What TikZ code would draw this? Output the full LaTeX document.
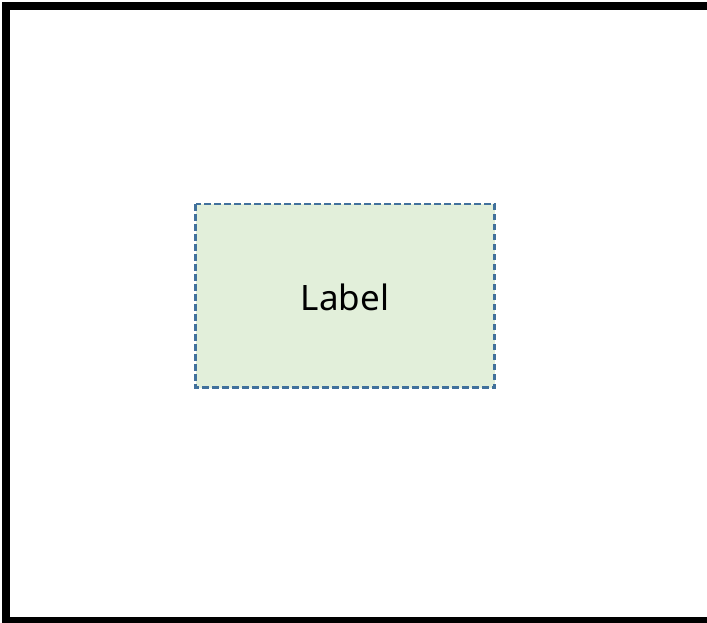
\documentclass[tikz,border=0pt]{standalone}
\usepackage{fontspec}
\setmainfont{Noto Sans}
\definecolor{boxfill}{RGB}{226,239,218}
\definecolor{boxline}{RGB}{65,113,156}
\tikzset{
  frame/.style={draw=black, line width=8pt},
  labelbox/.style={draw=boxline, fill=boxfill, line width=2.5pt, dash pattern=on 6.5pt off 3.5pt, inner sep=0pt},
}
\begin{document}
\begin{tikzpicture}[x=1pt,y=-1pt]
\useasboundingbox (0,0) rectangle (707,623);
\begin{scope}
\clip (0,0) rectangle (707,623);
\draw[frame] (6,6.5) rectangle (712,621);
\end{scope}
\draw[labelbox] (195.5,204) rectangle (494.5,387.5);
\node[font=\fontsize{35}{40}\selectfont, inner sep=0pt] (lbl) at (345,297) {Label};
\end{tikzpicture}
\end{document}
